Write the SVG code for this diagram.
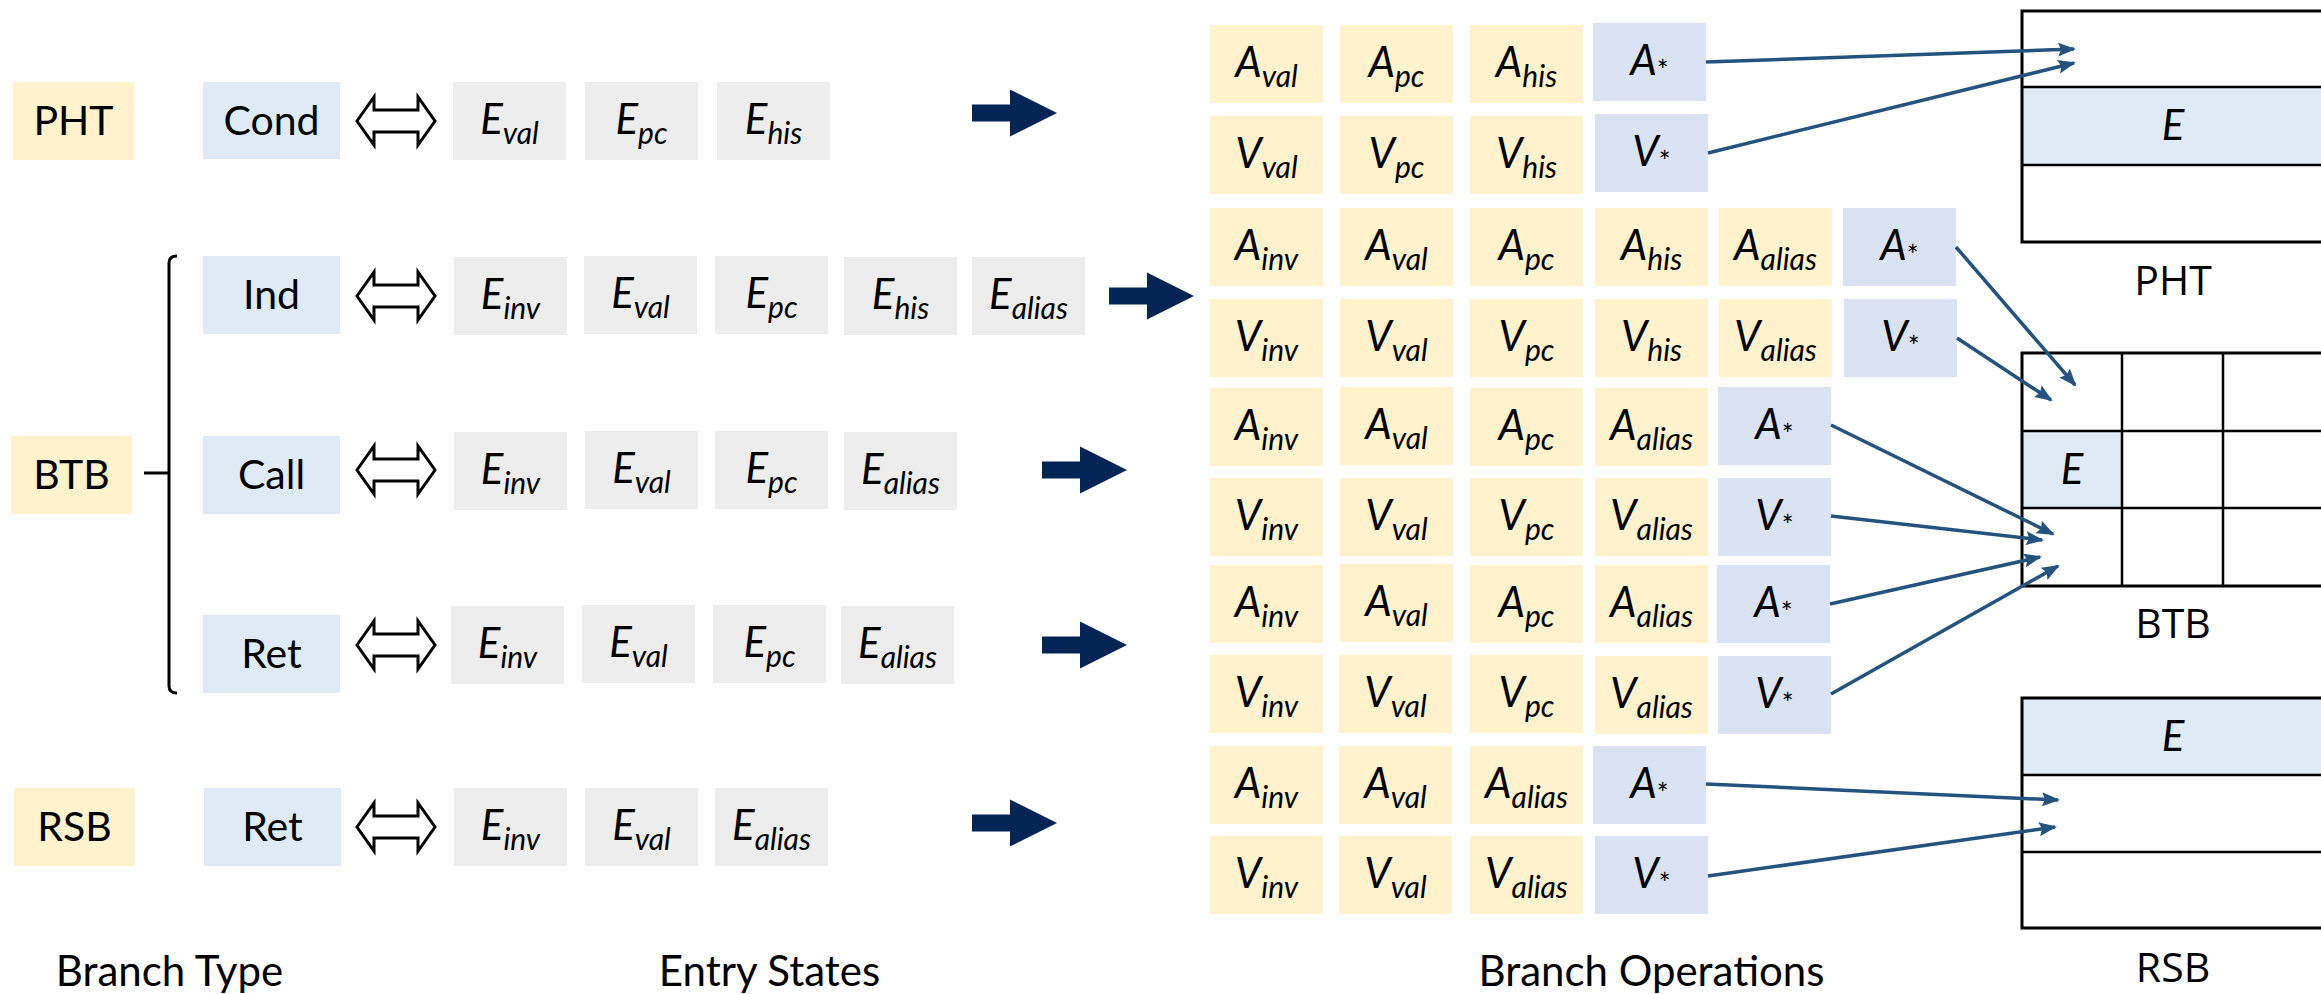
<svg xmlns="http://www.w3.org/2000/svg" width="2321" height="994" viewBox="0 0 2321 994">
<style>
text{font-family:Lato,"Noto Sans",sans-serif;fill:#000}
.lbl{font-size:41px;text-anchor:middle}
.m{font-size:42px;font-style:italic;text-anchor:middle}
.sub{font-size:30px}
.star{font-size:28px;font-style:normal}
.cap{font-family:"Open Sans","Noto Sans",sans-serif;font-size:41px;text-anchor:middle}
.foot{font-size:42px;text-anchor:middle}
.y{fill:#FFF2CC}
.b{fill:#DEEBF7}
.s{fill:#DAE3F3}
.g{fill:#EDEDED}
.dbl{fill:#fff;stroke:#000;stroke-width:3;stroke-linejoin:miter}
.fat{fill:#022555}
.tb{fill:none;stroke:#000;stroke-width:3}
.tl{fill:none;stroke:#000;stroke-width:2.5}
.con line{stroke:#255380;stroke-width:3.5;marker-end:url(#ah)}
</style>
<defs>
<marker id="ah" viewBox="0 0 18 14" refX="16" refY="7" markerWidth="18" markerHeight="14" markerUnits="userSpaceOnUse" orient="auto">
<path d="M0,0 L18,7 L0,14 L3,7 Z" fill="#255380"/>
</marker>
<path id="dblarrow" class="dbl" d="M0,0 L17,-24 L17,-11 L61,-11 L61,-24 L78,0 L61,24 L61,11 L17,11 L17,24 Z"/>
<path id="fatarrow" class="fat" d="M0,-8.5 L38,-8.5 L38,-23.5 L85,0 L38,23.5 L38,8.5 L0,8.5 Z"/>
</defs>

<!-- Branch types -->
<g id="type-PHT"><rect class="y" x="13" y="82" width="121" height="78"/><text class="lbl" x="73.5" y="135">PHT</text></g>
<g id="type-BTB"><rect class="y" x="11" y="436" width="121" height="78"/><text class="lbl" x="71.5" y="489">BTB</text></g>
<g id="type-RSB"><rect class="y" x="14" y="788" width="121" height="78"/><text class="lbl" x="74.5" y="841">RSB</text></g>
<g id="bracket"><path d="M177,256 Q169,256 169,263 L169,686 Q169,693 177,693 M144,473 L169,473" fill="none" stroke="#000" stroke-width="3"/></g>

<g id="br-Cond"><rect class="b" x="203" y="82" width="137" height="77"/><text class="lbl" x="271.5" y="135">Cond</text></g>
<g id="br-Ind"><rect class="b" x="203" y="256" width="137" height="78"/><text class="lbl" x="271.5" y="309">Ind</text></g>
<g id="br-Call"><rect class="b" x="203" y="436" width="137" height="78"/><text class="lbl" x="271.5" y="489">Call</text></g>
<g id="br-Ret"><rect class="b" x="203" y="615" width="137" height="78"/><text class="lbl" x="271.5" y="668">Ret</text></g>
<g id="br-Ret2"><rect class="b" x="204" y="788" width="137" height="78"/><text class="lbl" x="272.5" y="841">Ret</text></g>

<g id="dbl-arrows">
<use href="#dblarrow" x="357" y="121"/>
<use href="#dblarrow" x="357" y="296"/>
<use href="#dblarrow" x="357" y="470"/>
<use href="#dblarrow" x="357" y="645"/>
<use href="#dblarrow" x="357" y="827"/>
</g>

<!-- Entry states -->
<g id="es-cond">
<rect class="g" x="453" y="82" width="113" height="78"/><text class="m" x="509.5" y="134">E<tspan class="sub" dy="10">val</tspan></text>
<rect class="g" x="585" y="82" width="113" height="78"/><text class="m" x="641.5" y="134">E<tspan class="sub" dy="10">pc</tspan></text>
<rect class="g" x="717" y="82" width="113" height="78"/><text class="m" x="773.5" y="134">E<tspan class="sub" dy="10">his</tspan></text>
</g>
<g id="es-ind">
<rect class="g" x="454" y="257" width="113" height="78"/><text class="m" x="510.5" y="309">E<tspan class="sub" dy="10">inv</tspan></text>
<rect class="g" x="584" y="256" width="113" height="78"/><text class="m" x="640.5" y="308">E<tspan class="sub" dy="10">val</tspan></text>
<rect class="g" x="715" y="256" width="113" height="78"/><text class="m" x="771.5" y="308">E<tspan class="sub" dy="10">pc</tspan></text>
<rect class="g" x="844" y="257" width="113" height="78"/><text class="m" x="900.5" y="309">E<tspan class="sub" dy="10">his</tspan></text>
<rect class="g" x="972" y="257" width="113" height="78"/><text class="m" x="1028.5" y="309">E<tspan class="sub" dy="10">alias</tspan></text>
</g>
<g id="es-call">
<rect class="g" x="454" y="432" width="113" height="78"/><text class="m" x="510.5" y="484">E<tspan class="sub" dy="10">inv</tspan></text>
<rect class="g" x="585" y="431" width="113" height="78"/><text class="m" x="641.5" y="483">E<tspan class="sub" dy="10">val</tspan></text>
<rect class="g" x="715" y="431" width="113" height="78"/><text class="m" x="771.5" y="483">E<tspan class="sub" dy="10">pc</tspan></text>
<rect class="g" x="844" y="432" width="113" height="78"/><text class="m" x="900.5" y="484">E<tspan class="sub" dy="10">alias</tspan></text>
</g>
<g id="es-ret">
<rect class="g" x="451" y="606" width="113" height="78"/><text class="m" x="507.5" y="658">E<tspan class="sub" dy="10">inv</tspan></text>
<rect class="g" x="582" y="605" width="113" height="78"/><text class="m" x="638.5" y="657">E<tspan class="sub" dy="10">val</tspan></text>
<rect class="g" x="713" y="605" width="113" height="78"/><text class="m" x="769.5" y="657">E<tspan class="sub" dy="10">pc</tspan></text>
<rect class="g" x="841" y="606" width="113" height="78"/><text class="m" x="897.5" y="658">E<tspan class="sub" dy="10">alias</tspan></text>
</g>
<g id="es-rsb">
<rect class="g" x="454" y="788" width="113" height="78"/><text class="m" x="510.5" y="840">E<tspan class="sub" dy="10">inv</tspan></text>
<rect class="g" x="585" y="788" width="113" height="78"/><text class="m" x="641.5" y="840">E<tspan class="sub" dy="10">val</tspan></text>
<rect class="g" x="715" y="788" width="113" height="78"/><text class="m" x="771.5" y="840">E<tspan class="sub" dy="10">alias</tspan></text>
</g>

<g id="fat-arrows">
<use href="#fatarrow" x="972" y="113"/>
<use href="#fatarrow" x="1109" y="296"/>
<use href="#fatarrow" x="1042" y="470"/>
<use href="#fatarrow" x="1042" y="645"/>
<use href="#fatarrow" x="972" y="823"/>
</g>

<!-- Branch operations -->
<g id="op-pht">
<rect class="y" x="1210" y="25" width="113" height="78"/><text class="m" x="1266.5" y="77">A<tspan class="sub" dy="10">val</tspan></text>
<rect class="y" x="1340" y="25" width="113" height="78"/><text class="m" x="1396.5" y="77">A<tspan class="sub" dy="10">pc</tspan></text>
<rect class="y" x="1470" y="25" width="113" height="78"/><text class="m" x="1526.5" y="77">A<tspan class="sub" dy="10">his</tspan></text>
<rect class="s" x="1593" y="23" width="113" height="78"/><text class="m" x="1649.5" y="75">A<tspan class="star" dy="6">*</tspan></text>
<rect class="y" x="1210" y="116" width="113" height="78"/><text class="m" x="1266.5" y="168">V<tspan class="sub" dy="10">val</tspan></text>
<rect class="y" x="1340" y="116" width="113" height="78"/><text class="m" x="1396.5" y="168">V<tspan class="sub" dy="10">pc</tspan></text>
<rect class="y" x="1470" y="116" width="113" height="78"/><text class="m" x="1526.5" y="168">V<tspan class="sub" dy="10">his</tspan></text>
<rect class="s" x="1595" y="114" width="113" height="78"/><text class="m" x="1651.5" y="166">V<tspan class="star" dy="6">*</tspan></text>
</g>
<g id="op-ind">
<rect class="y" x="1210" y="208" width="113" height="78"/><text class="m" x="1266.5" y="260">A<tspan class="sub" dy="10">inv</tspan></text>
<rect class="y" x="1340" y="208" width="113" height="78"/><text class="m" x="1396.5" y="260">A<tspan class="sub" dy="10">val</tspan></text>
<rect class="y" x="1470" y="208" width="113" height="78"/><text class="m" x="1526.5" y="260">A<tspan class="sub" dy="10">pc</tspan></text>
<rect class="y" x="1595" y="208" width="113" height="78"/><text class="m" x="1651.5" y="260">A<tspan class="sub" dy="10">his</tspan></text>
<rect class="y" x="1719" y="208" width="113" height="78"/><text class="m" x="1775.5" y="260">A<tspan class="sub" dy="10">alias</tspan></text>
<rect class="s" x="1843" y="208" width="113" height="78"/><text class="m" x="1899.5" y="260">A<tspan class="star" dy="6">*</tspan></text>
<rect class="y" x="1210" y="299" width="113" height="78"/><text class="m" x="1266.5" y="351">V<tspan class="sub" dy="10">inv</tspan></text>
<rect class="y" x="1340" y="299" width="113" height="78"/><text class="m" x="1396.5" y="351">V<tspan class="sub" dy="10">val</tspan></text>
<rect class="y" x="1470" y="299" width="113" height="78"/><text class="m" x="1526.5" y="351">V<tspan class="sub" dy="10">pc</tspan></text>
<rect class="y" x="1595" y="299" width="113" height="78"/><text class="m" x="1651.5" y="351">V<tspan class="sub" dy="10">his</tspan></text>
<rect class="y" x="1719" y="299" width="113" height="78"/><text class="m" x="1775.5" y="351">V<tspan class="sub" dy="10">alias</tspan></text>
<rect class="s" x="1844" y="299" width="113" height="78"/><text class="m" x="1900.5" y="351">V<tspan class="star" dy="6">*</tspan></text>
</g>
<g id="op-call">
<rect class="y" x="1210" y="388" width="113" height="78"/><text class="m" x="1266.5" y="440">A<tspan class="sub" dy="10">inv</tspan></text>
<rect class="y" x="1340" y="387" width="113" height="78"/><text class="m" x="1396.5" y="439">A<tspan class="sub" dy="10">val</tspan></text>
<rect class="y" x="1470" y="388" width="113" height="78"/><text class="m" x="1526.5" y="440">A<tspan class="sub" dy="10">pc</tspan></text>
<rect class="y" x="1595" y="388" width="113" height="78"/><text class="m" x="1651.5" y="440">A<tspan class="sub" dy="10">alias</tspan></text>
<rect class="s" x="1718" y="387" width="113" height="78"/><text class="m" x="1774.5" y="439">A<tspan class="star" dy="6">*</tspan></text>
<rect class="y" x="1210" y="478" width="113" height="78"/><text class="m" x="1266.5" y="530">V<tspan class="sub" dy="10">inv</tspan></text>
<rect class="y" x="1340" y="478" width="113" height="78"/><text class="m" x="1396.5" y="530">V<tspan class="sub" dy="10">val</tspan></text>
<rect class="y" x="1470" y="478" width="113" height="78"/><text class="m" x="1526.5" y="530">V<tspan class="sub" dy="10">pc</tspan></text>
<rect class="y" x="1595" y="478" width="113" height="78"/><text class="m" x="1651.5" y="530">V<tspan class="sub" dy="10">alias</tspan></text>
<rect class="s" x="1718" y="478" width="113" height="78"/><text class="m" x="1774.5" y="530">V<tspan class="star" dy="6">*</tspan></text>
</g>
<g id="op-ret">
<rect class="y" x="1210" y="565" width="113" height="78"/><text class="m" x="1266.5" y="617">A<tspan class="sub" dy="10">inv</tspan></text>
<rect class="y" x="1340" y="564" width="113" height="78"/><text class="m" x="1396.5" y="616">A<tspan class="sub" dy="10">val</tspan></text>
<rect class="y" x="1470" y="565" width="113" height="78"/><text class="m" x="1526.5" y="617">A<tspan class="sub" dy="10">pc</tspan></text>
<rect class="y" x="1595" y="565" width="113" height="78"/><text class="m" x="1651.5" y="617">A<tspan class="sub" dy="10">alias</tspan></text>
<rect class="s" x="1717" y="565" width="113" height="78"/><text class="m" x="1773.5" y="617">A<tspan class="star" dy="6">*</tspan></text>
<rect class="y" x="1210" y="655" width="113" height="78"/><text class="m" x="1266.5" y="707">V<tspan class="sub" dy="10">inv</tspan></text>
<rect class="y" x="1339" y="655" width="113" height="78"/><text class="m" x="1395.5" y="707">V<tspan class="sub" dy="10">val</tspan></text>
<rect class="y" x="1470" y="655" width="113" height="78"/><text class="m" x="1526.5" y="707">V<tspan class="sub" dy="10">pc</tspan></text>
<rect class="y" x="1595" y="656" width="113" height="78"/><text class="m" x="1651.5" y="708">V<tspan class="sub" dy="10">alias</tspan></text>
<rect class="s" x="1718" y="656" width="113" height="78"/><text class="m" x="1774.5" y="708">V<tspan class="star" dy="6">*</tspan></text>
</g>
<g id="op-rsb">
<rect class="y" x="1210" y="746" width="113" height="78"/><text class="m" x="1266.5" y="798">A<tspan class="sub" dy="10">inv</tspan></text>
<rect class="y" x="1339" y="746" width="113" height="78"/><text class="m" x="1395.5" y="798">A<tspan class="sub" dy="10">val</tspan></text>
<rect class="y" x="1470" y="746" width="113" height="78"/><text class="m" x="1526.5" y="798">A<tspan class="sub" dy="10">alias</tspan></text>
<rect class="s" x="1593" y="746" width="113" height="78"/><text class="m" x="1649.5" y="798">A<tspan class="star" dy="6">*</tspan></text>
<rect class="y" x="1210" y="836" width="113" height="78"/><text class="m" x="1266.5" y="888">V<tspan class="sub" dy="10">inv</tspan></text>
<rect class="y" x="1339" y="836" width="113" height="78"/><text class="m" x="1395.5" y="888">V<tspan class="sub" dy="10">val</tspan></text>
<rect class="y" x="1470" y="836" width="113" height="78"/><text class="m" x="1526.5" y="888">V<tspan class="sub" dy="10">alias</tspan></text>
<rect class="s" x="1595" y="836" width="113" height="78"/><text class="m" x="1651.5" y="888">V<tspan class="star" dy="6">*</tspan></text>
</g>

<!-- Tables -->
<g id="tbl-PHT">
<rect class="b" x="2022" y="87" width="310" height="78"/>
<text class="m" x="2173" y="140">E</text>
<path class="tb" d="M2335,11 L2022,11 L2022,242 L2335,242"/>
<path class="tl" d="M2022,87 L2335,87 M2022,165 L2335,165"/>
<text class="cap" x="2173" y="295">PHT</text>
</g>
<g id="tbl-BTB">
<rect class="b" x="2022" y="431" width="100" height="77"/>
<text class="m" x="2072" y="484">E</text>
<path class="tb" d="M2335,353 L2022,353 L2022,586 L2335,586"/>
<path class="tl" d="M2022,431 L2335,431 M2022,508 L2335,508 M2122,353 L2122,586 M2223,353 L2223,586"/>
<text class="cap" x="2173" y="638">BTB</text>
</g>
<g id="tbl-RSB">
<rect class="b" x="2022" y="698" width="310" height="77"/>
<text class="m" x="2173" y="751">E</text>
<path class="tb" d="M2335,698 L2022,698 L2022,928 L2335,928"/>
<path class="tl" d="M2022,775 L2335,775 M2022,852 L2335,852"/>
<text class="cap" x="2173" y="982">RSB</text>
</g>

<g id="connectors" class="con">
<line x1="1706" y1="62" x2="2074" y2="49"/>
<line x1="1708" y1="153" x2="2074" y2="63"/>
<line x1="1956" y1="247" x2="2075" y2="385"/>
<line x1="1957" y1="338" x2="2051" y2="400"/>
<line x1="1831" y1="425" x2="2053" y2="534"/>
<line x1="1831" y1="516" x2="2042" y2="540"/>
<line x1="1830" y1="604" x2="2040" y2="557"/>
<line x1="1831" y1="694" x2="2058" y2="566"/>
<line x1="1706" y1="784" x2="2058" y2="800"/>
<line x1="1708" y1="876" x2="2055" y2="827"/>
</g>

<g id="footer">
<text class="foot" x="169.5" y="986">Branch Type</text>
<text class="foot" x="769.5" y="986">Entry States</text>
<text class="foot" x="1651.5" y="986">Branch Operations</text>
</g>
</svg>
